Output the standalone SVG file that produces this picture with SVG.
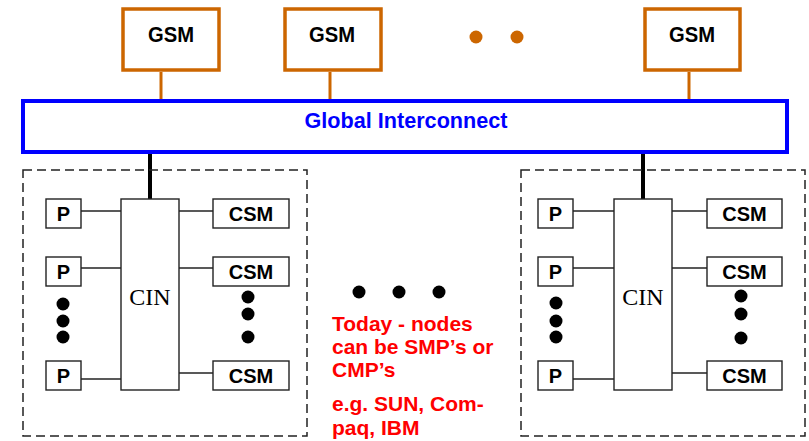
<svg xmlns="http://www.w3.org/2000/svg" width="809" height="441" viewBox="0 0 809 441">
<style>
.gsm{fill:#fff;stroke:#cc6600;stroke-width:3.5}
.oc{stroke:#cc6600;stroke-width:3}
.gi{fill:#fff;stroke:#0000ff;stroke-width:4}
.dash{fill:none;stroke:#222;stroke-width:1.5;stroke-dasharray:9,5}
.bx{fill:#fff;stroke:#222;stroke-width:1.4}
.ln{stroke:#222;stroke-width:1.3}
.thick{stroke:#000;stroke-width:4}
.b{font-family:"Liberation Sans",Arial,sans-serif;font-weight:bold;text-anchor:middle;fill:#000}
.s{font-family:"Liberation Serif","Times New Roman",serif;font-size:24px;text-anchor:middle;fill:#000}
.r{font-family:"Liberation Sans",Arial,sans-serif;font-weight:bold;font-size:21px;fill:#ff0000}
</style>
<g id="connectors">
<line class="oc" x1="161" y1="72" x2="161" y2="100"/>
<line class="oc" x1="330" y1="72" x2="330" y2="100"/>
<line class="oc" x1="689" y1="72" x2="689" y2="100"/>
<line class="thick" x1="150" y1="153" x2="150" y2="199"/>
<line class="thick" x1="643" y1="153" x2="643" y2="199"/>
<line class="ln" x1="81" y1="211" x2="121" y2="211"/>
<line class="ln" x1="81" y1="268" x2="121" y2="268"/>
<line class="ln" x1="81" y1="379" x2="121" y2="379"/>
<line class="ln" x1="179" y1="211" x2="213" y2="211"/>
<line class="ln" x1="179" y1="268" x2="213" y2="268"/>
<line class="ln" x1="179" y1="373" x2="213" y2="373"/>
<line class="ln" x1="573" y1="211" x2="614" y2="211"/>
<line class="ln" x1="573" y1="268" x2="614" y2="268"/>
<line class="ln" x1="573" y1="379" x2="614" y2="379"/>
<line class="ln" x1="672" y1="211" x2="707" y2="211"/>
<line class="ln" x1="672" y1="268" x2="707" y2="268"/>
<line class="ln" x1="672" y1="373" x2="707" y2="373"/>
</g>
<g id="gsm1"><rect class="gsm" x="123" y="9" width="96" height="61"/><text class="b" x="171" y="42" font-size="22" textLength="46" lengthAdjust="spacingAndGlyphs">GSM</text></g>
<g id="gsm2"><rect class="gsm" x="285" y="9" width="96" height="61"/><text class="b" x="332" y="42" font-size="22" textLength="46" lengthAdjust="spacingAndGlyphs">GSM</text></g>
<g id="gsm-dots" fill="#cc6600"><circle cx="476" cy="37" r="6.5"/><circle cx="517" cy="37" r="6.5"/></g>
<g id="gsm3"><rect class="gsm" x="645" y="9" width="95" height="61"/><text class="b" x="692" y="42" font-size="22" textLength="46" lengthAdjust="spacingAndGlyphs">GSM</text></g>
<g id="global-interconnect"><rect class="gi" x="23" y="101" width="764" height="51"/><text class="b" x="406" y="128" font-size="22" textLength="203" lengthAdjust="spacingAndGlyphs" style="fill:#0000ff">Global Interconnect</text></g>

<g id="node-left">
<rect class="dash" x="23" y="170" width="284" height="266"/>
<g id="cin-left"><rect class="bx" x="121" y="199" width="58" height="191"/><text class="s" x="150" y="305">CIN</text></g>
<g id="p-left-1"><rect class="bx" x="46" y="199" width="35" height="29"/><text class="b" x="63.5" y="221" font-size="20">P</text></g>
<g id="p-left-2"><rect class="bx" x="46" y="257" width="35" height="29"/><text class="b" x="63.5" y="279" font-size="20">P</text></g>
<g id="p-left-3"><rect class="bx" x="46" y="361" width="35" height="29"/><text class="b" x="63.5" y="383" font-size="20">P</text></g>
<g id="csm-left-1"><rect class="bx" x="213" y="199" width="76" height="29"/><text class="b" x="251" y="221" font-size="20">CSM</text></g>
<g id="csm-left-2"><rect class="bx" x="213" y="257" width="76" height="29"/><text class="b" x="251" y="279" font-size="20">CSM</text></g>
<g id="csm-left-3"><rect class="bx" x="213" y="361" width="76" height="29"/><text class="b" x="251" y="383" font-size="20">CSM</text></g>
<g fill="#000"><circle cx="63" cy="304" r="6.5"/><circle cx="63" cy="321" r="6.5"/><circle cx="63" cy="337" r="6.5"/>
<circle cx="248" cy="297" r="6.5"/><circle cx="248" cy="314" r="6.5"/><circle cx="248" cy="337" r="6.5"/></g>
</g>

<g id="node-right">
<rect class="dash" x="521" y="170" width="284" height="266"/>
<g id="cin-right"><rect class="bx" x="614" y="199" width="58" height="191"/><text class="s" x="643" y="305">CIN</text></g>
<g id="p-right-1"><rect class="bx" x="538" y="199" width="35" height="29"/><text class="b" x="555.5" y="221" font-size="20">P</text></g>
<g id="p-right-2"><rect class="bx" x="538" y="257" width="35" height="29"/><text class="b" x="555.5" y="279" font-size="20">P</text></g>
<g id="p-right-3"><rect class="bx" x="538" y="361" width="35" height="29"/><text class="b" x="555.5" y="383" font-size="20">P</text></g>
<g id="csm-right-1"><rect class="bx" x="707" y="199" width="75" height="29"/><text class="b" x="744.5" y="221" font-size="20">CSM</text></g>
<g id="csm-right-2"><rect class="bx" x="707" y="257" width="75" height="29"/><text class="b" x="744.5" y="279" font-size="20">CSM</text></g>
<g id="csm-right-3"><rect class="bx" x="707" y="361" width="75" height="29"/><text class="b" x="744.5" y="383" font-size="20">CSM</text></g>
<g fill="#000"><circle cx="556" cy="303" r="6.5"/><circle cx="556" cy="321" r="6.5"/><circle cx="556" cy="337" r="6.5"/>
<circle cx="741" cy="296" r="6.5"/><circle cx="741" cy="314" r="6.5"/><circle cx="741" cy="338" r="6.5"/></g>
</g>

<g id="middle-dots" fill="#000"><circle cx="359" cy="292" r="6.5"/><circle cx="399" cy="292" r="6.5"/><circle cx="439" cy="292" r="6.5"/></g>
<g id="note">
<text class="r" x="332" y="331">Today - nodes</text>
<text class="r" x="332" y="354">can be SMP’s or</text>
<text class="r" x="332" y="377">CMP’s</text>
<text class="r" x="332" y="411">e.g. SUN, Com-</text>
<text class="r" x="332" y="435">paq, IBM</text>
</g>
</svg>
